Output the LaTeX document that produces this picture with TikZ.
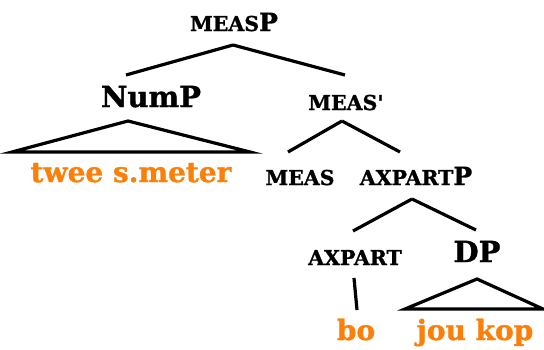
\documentclass[tikz,border=0pt]{standalone}
\usepackage{fontspec}
\setmainfont{DejaVu Serif}[BoldFeatures={FakeBold=1.2}]
\newfontfamily\recht{DejaVu Serif}[BoldFeatures={FakeBold=1.2}]
\usetikzlibrary{calc}
\definecolor{oranje}{RGB}{250,128,10}
\newcommand{\kk}[1]{{\fontsize{20.5}{20.5}\selectfont #1}}
\tikzset{
x=1pt,y=1pt,
cat/.style={anchor=base,inner sep=0pt,font=\bfseries\fontsize{29}{29}\selectfont},
kcat/.style={anchor=base,inner sep=0pt,font=\bfseries\fontsize{25}{25}\selectfont},
woord/.style={anchor=base,inner sep=0pt,text=oranje,font=\bfseries\fontsize{28}{28}\selectfont},
tak/.style={line width=3.2pt},
drie/.style={line width=3.2pt,line join=miter}}

\begin{document}
\begin{tikzpicture}

\useasboundingbox (0,0) rectangle (544,-349);

\node[kcat] (measP) at (234,-31) {\kk{MEAS}P};
\node[cat] (NumP) at (151,-107) {NumP};
\node[kcat] (measbar) at (346,-110) {\kk{MEAS{\recht'}}};
\node[kcat] (meas) at (300,-185) {\kk{MEAS}};
\node[kcat] (axpartP) at (416,-185) {\kk{AXPART}P};
\node[kcat] (axpart) at (355,-265) {\kk{AXPART}};
\node[cat] (DP) at (477,-262) {DP};

\node[woord] (twee) at (131,-182) {twee s.meter};
\node[woord] (bo) at (356,-340) {bo};
\node[woord] (kop) at (475,-340) {jou kop};

\draw[tak] ($(measP.base)+(-1,-14)$) -- ($(NumP.base)+(-25,32)$);
\draw[tak] ($(measP.base)+(-1,-14)$) -- ($(measbar.base)+(-1,35)$);
\draw[drie] ($(NumP.base)+(-23,-14)$) -- ($(twee.base)+(-119,30)$) -- ($(twee.base)+(119,30)$) -- cycle;
\draw[tak] ($(measbar.base)+(-4,-11)$) -- ($(meas.base)+(-12,33)$);
\draw[tak] ($(measbar.base)+(-4,-11)$) -- ($(axpartP.base)+(-16,33)$);
\draw[tak] ($(axpartP.base)+(-4,-14)$) -- ($(axpart.base)+(-2,34)$);
\draw[tak] ($(axpartP.base)+(-4,-14)$) -- ($(DP.base)+(-1,32)$);
\draw[tak] ($(axpart.base)+(-1,-13)$) -- ($(bo.base)+(1,30)$);
\draw[drie] ($(DP.base)+(0,-17)$) -- ($(kop.base)+(-70,31)$) -- ($(kop.base)+(68,31)$) -- cycle;

\end{tikzpicture}
\end{document}
